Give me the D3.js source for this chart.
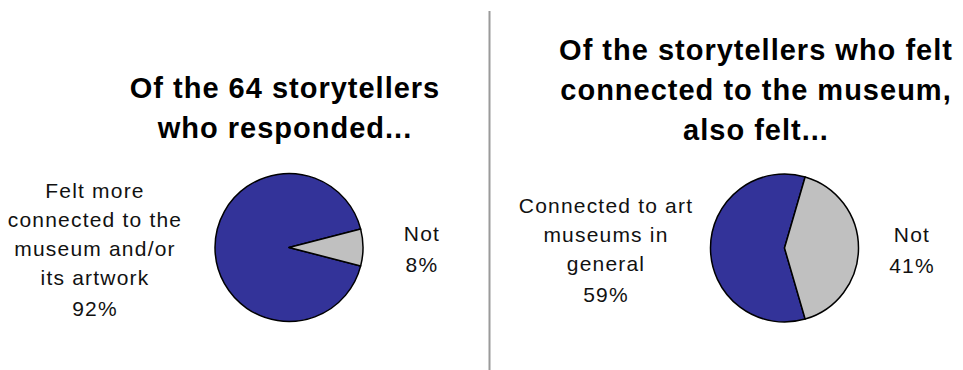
<!DOCTYPE html>
<html>
<head>
<meta charset="utf-8">
<script src="https://cdn.jsdelivr.net/npm/d3@7"></script>
<style>
  html, body { margin: 0; padding: 0; background: #fff; }
  svg { display: block; }
  .title { font-family: "Liberation Sans", Arial, sans-serif; font-weight: bold; font-size: 29px; letter-spacing: 1px; fill: #000; }
  .label { font-family: "Liberation Sans", Arial, sans-serif; font-size: 21px; letter-spacing: 1.2px; fill: #111; }
</style>
</head>
<body>
<svg id="chart" width="963" height="370"></svg>
<script>
// Survey results: two pies, each split into "yes" and "not" shares (percent)
const chartTitles = [
  ["Of the 64 storytellers", "who responded..."],
  ["Of the storytellers who felt", "connected to the museum,", "also felt..."]
];
const yesLabels = [
  ["Felt more", "connected to the", "museum and/or", "its artwork"],
  ["Connected to art", "museums in", "general"]
];
const yesValues = [92, 59];
const notLabels = [["Not"], ["Not"]];
const notValues = [8, 41];

const sliceColors = ["#333399", "#c0c0c0"];

// Panel layout
const panels = [
  { cx: 289, cy: 247.5, r: 74, titleX: 285, titleY: 98, yesX: 95, notX: 422 },
  { cx: 784.5, cy: 248, r: 74, titleX: 756, titleY: 60, yesX: 606, notX: 912 }
];
const titleLeading = 40;
const labelLeading = 29;
const percentGap = 31;

const svg = d3.select("#chart");

// Vertical rule between the two panels
svg.append("line")
  .attr("x1", 489.5).attr("x2", 489.5)
  .attr("y1", 11).attr("y2", 370)
  .attr("stroke", "#9a9a9a").attr("stroke-width", 2);

const arc = d3.arc().innerRadius(0);

panels.forEach((p, i) => {
  const values = [yesValues[i], notValues[i]];
  const total = d3.sum(values);
  // "Not" slice centred on 3 o'clock
  const notSpan = 2 * Math.PI * notValues[i] / total;
  const start = Math.PI / 2 + notSpan / 2;
  const pie = d3.pie().sort(null).startAngle(start).endAngle(start + 2 * Math.PI);

  const g = svg.append("g");

  // Title
  g.append("text")
    .attr("class", "title")
    .attr("text-anchor", "middle")
    .selectAll("tspan")
    .data(chartTitles[i])
    .join("tspan")
    .attr("x", p.titleX)
    .attr("y", (d, k) => p.titleY + k * titleLeading)
    .text(d => d);

  // Slices
  g.append("g")
    .attr("transform", `translate(${p.cx},${p.cy})`)
    .selectAll("path")
    .data(pie(values))
    .join("path")
    .attr("d", d => arc.outerRadius(p.r)(d))
    .attr("fill", (d, k) => sliceColors[k])
    .attr("stroke", "#000")
    .attr("stroke-width", 1.5)
    .attr("stroke-linejoin", "round");

  // Slice labels: text lines followed by the percentage
  function labelBlock(lines, value, x) {
    const span = (lines.length - 1) * labelLeading + percentGap;
    const y0 = p.cy + 9 - span / 2;
    const rows = lines.map((t, k) => ({ t, y: y0 + k * labelLeading }));
    rows.push({ t: value + "%", y: y0 + (lines.length - 1) * labelLeading + percentGap });
    g.append("text")
      .attr("class", "label")
      .attr("text-anchor", "middle")
      .selectAll("tspan")
      .data(rows)
      .join("tspan")
      .attr("x", x)
      .attr("y", d => d.y)
      .text(d => d.t);
  }
  labelBlock(yesLabels[i], yesValues[i], p.yesX);
  labelBlock(notLabels[i], notValues[i], p.notX);
});
</script>
</body>
</html>
